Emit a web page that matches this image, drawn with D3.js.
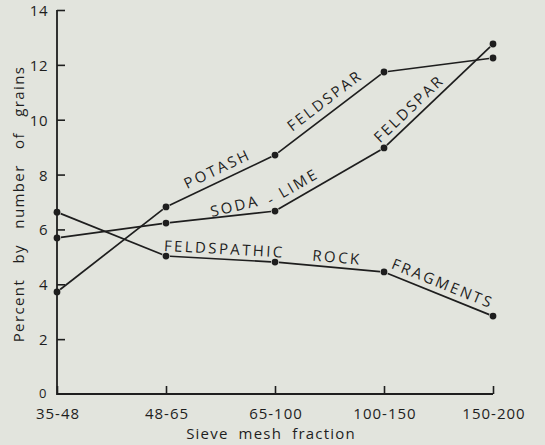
<!DOCTYPE html>
<html>
<head>
<meta charset="utf-8">
<script src="https://cdn.jsdelivr.net/npm/d3@7/dist/d3.min.js"></script>
<style>
  html, body { margin: 0; padding: 0; background: #e2e4dd; }
  svg { display: block; }
  text { font-family: "Open Sans", "DejaVu Sans", sans-serif; fill: #1e1e1e; }
</style>
</head>
<body>
<script>
// ---- data ----
const categories = ["35-48", "48-65", "65-100", "100-150", "150-200"];
const potash     = [3.72, 6.82, 8.71, 11.74, 12.25];
const sodaLime   = [5.69, 6.23, 6.67, 8.97, 12.76];
const rockFrag   = [6.63, 5.03, 4.81, 4.45, 2.84];
const yTicks     = [0, 2, 4, 6, 8, 10, 12, 14];
const xTitle = "Sieve mesh fraction";
const yTitle = "Percent by number of grains";

// line annotations: text, series, segment, position along, offset above, optional angle
const series = { potash, sodaLime, rockFrag };
const annotations = [
  { text: "POTASH",      s: "potash",   seg: 1, t: 0.52, off: 13 },
  { text: "FELDSPAR",    s: "potash",   seg: 2, t: 0.53, off: 14 },
  { text: "SODA",        s: "sodaLime", seg: 1, t: 0.64, off: 10, angle: -13 },
  { text: "- LIME",      s: "sodaLime", seg: 2, t: 0.22, off: 13 },
  { text: "FELDSPAR",    s: "sodaLime", seg: 3, t: 0.30, off: 12 },
  { text: "FELDSPATHIC", s: "rockFrag", seg: 1, t: 0.53, off: 11 },
  { text: "ROCK",        s: "rockFrag", seg: 2, t: 0.56, off: 11 },
  { text: "FRAGMENTS",   s: "rockFrag", seg: 3, t: 0.50, off: 12 }
];

// ---- layout ----
const W = 545, H = 445;
const svg = d3.select("body").append("svg").attr("width", W).attr("height", H);
const x = d3.scalePoint().domain(categories).range([57, 493]).padding(0);
const y = d3.scaleLinear().domain([0, 14]).range([394, 10]);
const ink = "#1e1e1e";

// axes
const yAxis = d3.axisRight(y).tickValues(yTicks.filter(d => d > 0)).tickSize(8).tickFormat("");
svg.append("g").attr("transform", "translate(57,0)").call(yAxis)
  .call(g => g.select(".domain").remove())
  .call(g => g.selectAll("line").attr("stroke", ink).attr("stroke-width", 1.6));
const xAxis = d3.axisTop(x).tickSize(8).tickFormat("");
svg.append("g").attr("transform", "translate(0,394)").call(xAxis)
  .call(g => g.select(".domain").remove())
  .call(g => g.selectAll("line").attr("stroke", ink).attr("stroke-width", 1.6));
svg.append("path")
  .attr("d", `M${x(categories[0])},${y(14)}V${y(0)}H${x(categories[categories.length-1])}`)
  .attr("fill", "none").attr("stroke", ink).attr("stroke-width", 1.8);

// tick labels
svg.append("g").selectAll("text").data(yTicks).join("text")
  .attr("x", d => d === 0 ? 43 : 48).attr("y", d => y(d) + (d === 0 ? -1 : 0))
  .attr("text-anchor", d => d === 0 ? "middle" : "end")
  .attr("dominant-baseline", "central")
  .attr("font-size", d => d === 0 ? 13 : 15).attr("letter-spacing", 0.5)
  .text(d => d);
svg.append("g").selectAll("text").data(categories).join("text")
  .attr("x", d => x(d) + 1).attr("y", 413)
  .attr("text-anchor", "middle").attr("dominant-baseline", "central")
  .attr("font-size", 15).attr("letter-spacing", 1)
  .text(d => d);

// titles
svg.append("text").attr("x", 271).attr("y", 439)
  .attr("text-anchor", "middle")
  .attr("font-size", 15).attr("letter-spacing", 1.2).attr("word-spacing", 5)
  .text(xTitle);
svg.append("text").attr("transform", "translate(18,204) rotate(-90)")
  .attr("text-anchor", "middle").attr("dominant-baseline", "central")
  .attr("font-size", 15).attr("letter-spacing", 1.4).attr("word-spacing", 10)
  .text(yTitle);

// lines drawn as segments with small gaps at the dots
const gap = 4;
Object.values(series).forEach(vals => {
  const pts = vals.map((v, i) => [x(categories[i]), y(v)]);
  for (let i = 0; i < pts.length - 1; i++) {
    const [x0, y0] = pts[i], [x1, y1] = pts[i + 1];
    const len = Math.hypot(x1 - x0, y1 - y0);
    const ux = (x1 - x0) / len, uy = (y1 - y0) / len;
    svg.append("line")
      .attr("x1", x0 + ux * gap).attr("y1", y0 + uy * gap)
      .attr("x2", x1 - ux * gap).attr("y2", y1 - uy * gap)
      .attr("stroke", ink).attr("stroke-width", 1.7);
  }
  svg.append("g").selectAll("circle").data(pts).join("circle")
    .attr("cx", d => d[0]).attr("cy", d => d[1]).attr("r", 3.4).attr("fill", ink);
});

// annotations
annotations.forEach(a => {
  const vals = series[a.s];
  const x0 = x(categories[a.seg]), y0 = y(vals[a.seg]);
  const x1 = x(categories[a.seg + 1]), y1 = y(vals[a.seg + 1]);
  const len = Math.hypot(x1 - x0, y1 - y0);
  const ux = (x1 - x0) / len, uy = (y1 - y0) / len;
  const nx = uy, ny = -ux;
  const cx = x0 + (x1 - x0) * a.t + nx * a.off;
  const cy = y0 + (y1 - y0) * a.t + ny * a.off;
  const ang = a.angle !== undefined ? a.angle : Math.atan2(y1 - y0, x1 - x0) * 180 / Math.PI;
  svg.append("text")
    .attr("transform", `translate(${cx},${cy}) rotate(${ang})`)
    .attr("text-anchor", "middle").attr("dominant-baseline", "central")
    .attr("font-size", 15).attr("font-weight", 500).attr("letter-spacing", 2.4)
    .text(a.text);
});
</script>
</body>
</html>
